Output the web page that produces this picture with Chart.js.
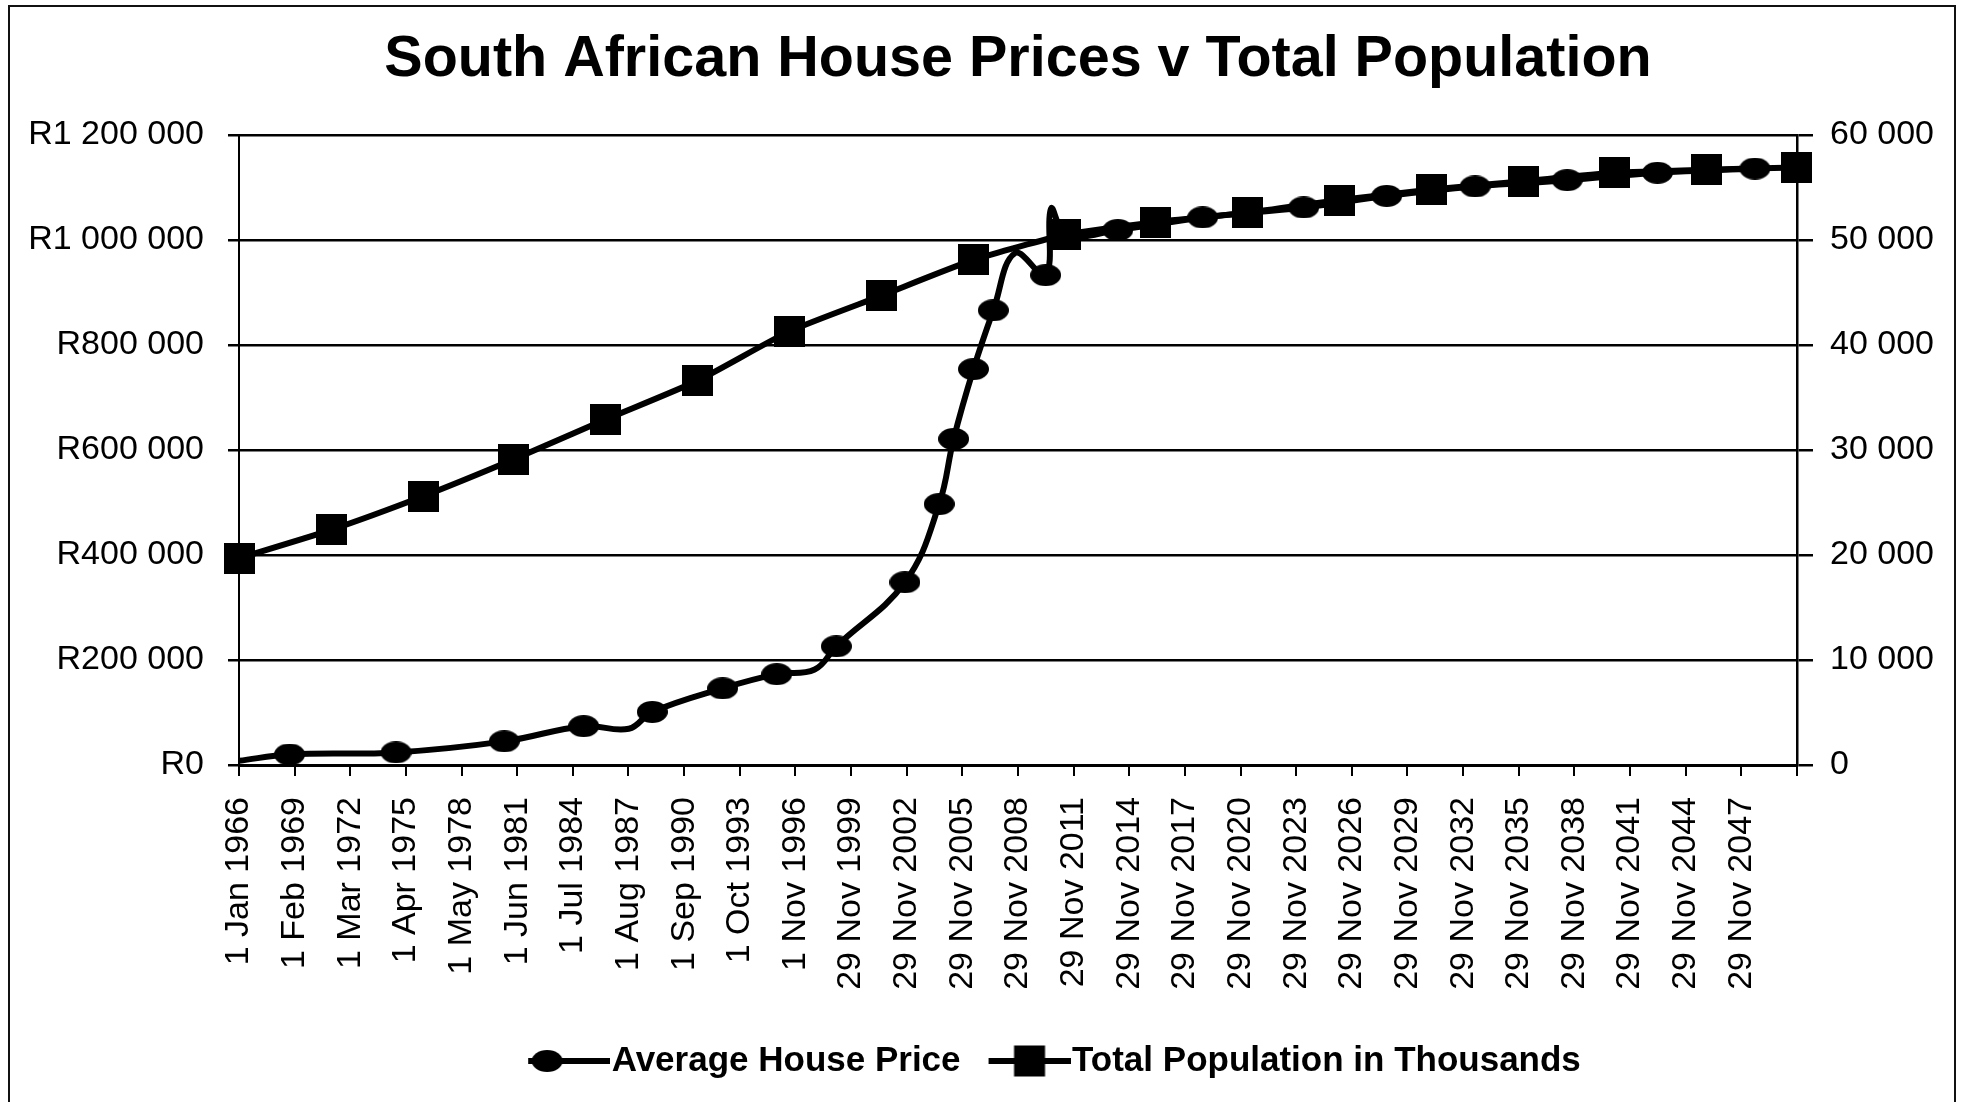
<!DOCTYPE html>
<html>
<head>
<meta charset="utf-8">
<title>South African House Prices v Total Population</title>
<script src="https://cdn.jsdelivr.net/npm/chart.js@4.4.0/dist/chart.umd.min.js"></script>
<style>
  html, body { margin: 0; padding: 0; background: #fff; overflow: hidden; }
  #chart { position: absolute; left: 0; top: 0; }
  #frame { position: absolute; left: 8px; top: 5px; width: 1944px; height: 1110px; border: 2px solid #111; pointer-events: none; }
</style>
</head>
<body>
<canvas id="chart" width="1962" height="1102"></canvas>
<div id="frame"></div>
<script>
// x axis labels (one every 37 months, last tick unlabelled)
const xTickLabels = ['1 Jan 1966', '1 Feb 1969', '1 Mar 1972', '1 Apr 1975', '1 May 1978', '1 Jun 1981',
  '1 Jul 1984', '1 Aug 1987', '1 Sep 1990', '1 Oct 1993', '1 Nov 1996', '29 Nov 1999', '29 Nov 2002',
  '29 Nov 2005', '29 Nov 2008', '29 Nov 2011', '29 Nov 2014', '29 Nov 2017', '29 Nov 2020', '29 Nov 2023',
  '29 Nov 2026', '29 Nov 2029', '29 Nov 2032', '29 Nov 2035', '29 Nov 2038', '29 Nov 2041', '29 Nov 2044',
  '29 Nov 2047', ''];
const priceTickLabels = ['R0', 'R200 000', 'R400 000', 'R600 000', 'R800 000', 'R1 000 000', 'R1 200 000'];
const popTickLabels = ['0', '10 000', '20 000', '30 000', '40 000', '50 000', '60 000'];

// Average house price (rand), x in decimal years
const priceYears = [1966.0, 1968.8, 1974.7, 1980.7, 1985.1, 1987.6, 1988.9, 1992.8, 1995.8, 1997.9,
  1999.1, 2002.9, 2004.8, 2005.6, 2006.7, 2007.8, 2009.0, 2010.7, 2011.0, 2011.85,
  2014.7, 2019.4, 2025.0, 2029.6, 2034.5, 2039.6, 2044.6, 2050.0];
const priceValues = [8000, 20000, 24000, 45000, 74000, 69000, 101000, 146000, 173000, 182000,
  226000, 348000, 497000, 621000, 754000, 866000, 975000, 933000, 1060000, 1010000,
  1019000, 1043000, 1062000, 1084000, 1102000, 1114000, 1128000, 1136000];
// points that carry a marker in the original (others only shape the line)
const priceMarked = [0, 1, 1, 1, 1, 0, 1, 1, 1, 0,
  1, 1, 1, 1, 1, 1, 0, 1, 0, 0,
  1, 1, 1, 1, 1, 1, 1, 1];

// Total population in thousands
const popYears = [1966.0, 1971.1, 1976.2, 1981.2, 1986.3, 1991.4, 1996.5, 2001.6, 2006.7, 2011.8,
  2016.8, 2021.9, 2027.0, 2032.1, 2037.2, 2042.2, 2047.3, 2052.3];
const popValues = [19700, 22400, 25600, 29100, 32900, 36600, 41300, 44700, 48100, 50500,
  51700, 52600, 53800, 54800, 55600, 56400, 56700, 56900];

const xStart = 1966;
const xStep = 37 / 12;

function makeMarker(draw, w, h) {
  const c = document.createElement('canvas');
  c.width = w; c.height = h;
  const g = c.getContext('2d');
  g.fillStyle = '#000'; g.strokeStyle = '#000';
  draw(g);
  return c;
}
const circleMark = makeMarker(g => { g.beginPath(); g.ellipse(15.5, 11, 15.5, 11, 0, 0, Math.PI * 2); g.fill(); }, 31, 22);
const squareMark = makeMarker(g => g.fillRect(0, 0, 31, 31), 31, 31);
const priceIcon = makeMarker(g => {
  g.lineWidth = 6; g.beginPath(); g.moveTo(34, 17); g.lineTo(116, 17); g.stroke();
  g.beginPath(); g.ellipse(53, 17, 15.5, 11, 0, 0, Math.PI * 2); g.fill();
}, 116, 34);
const popIcon = makeMarker(g => {
  g.lineWidth = 6; g.beginPath(); g.moveTo(34, 17); g.lineTo(116, 17); g.stroke();
  g.fillRect(75 - 15.5, 17 - 15.5, 31, 31);
}, 116, 34);

Chart.defaults.font.family = "'Liberation Sans', Arial, sans-serif";
Chart.defaults.color = '#000';

const $grafica = document.querySelector('#chart');
new Chart($grafica, {
  type: 'line',
  data: {
    datasets: [{
      label: 'Average House Price',
      data: priceYears.map((x, i) => ({ x, y: priceValues[i] })),
      yAxisID: 'y',
      order: 1,
      borderColor: '#000',
      borderWidth: 6,
      tension: 0.4,
      pointStyle: circleMark,
      pointRadius: ctx => priceMarked[ctx.dataIndex] ? 15 : 0,
      clip: false
    }, {
      label: 'Total Population in Thousands',
      data: popYears.map((x, i) => ({ x, y: popValues[i] })),
      yAxisID: 'y1',
      order: 0,
      borderColor: '#000',
      borderWidth: 6,
      tension: 0.2,
      pointStyle: squareMark,
      pointRadius: 16,
      clip: false
    }]
  },
  options: {
    responsive: false,
    animation: false,
    devicePixelRatio: 1,
    // the legend sits right of centre in the original, hence the negative right padding
    layout: { padding: { left: 0, right: -129, top: 0, bottom: 13.5 } },
    plugins: {
      tooltip: { enabled: false },
      title: {
        display: true,
        text: 'South African House Prices v Total Population',
        fullSize: false,
        color: '#000',
        font: { size: 57.5, weight: 'bold' },
        padding: { top: 26, bottom: 40 }
      },
      legend: {
        position: 'bottom',
        labels: {
          usePointStyle: true,
          pointStyleWidth: 84,
          padding: 10,
          color: '#000',
          font: { size: 35, weight: 'bold' },
          generateLabels: () => [
            { text: 'Average House Price', pointStyle: priceIcon, fillStyle: '#000', strokeStyle: '#000', lineWidth: 0, hidden: false, datasetIndex: 0 },
            { text: 'Total Population in Thousands', pointStyle: popIcon, fillStyle: '#000', strokeStyle: '#000', lineWidth: 0, hidden: false, datasetIndex: 1 }
          ]
        }
      }
    },
    scales: {
      x: {
        type: 'linear',
        min: xStart,
        max: xStart + (xTickLabels.length - 1) * xStep,
        afterBuildTicks: scale => {
          scale.ticks = xTickLabels.map((_, i) => ({ value: xStart + i * xStep }));
        },
        afterFit: scale => { scale.height = 268.5; },
        ticks: {
          autoSkip: false,
          minRotation: 90,
          maxRotation: 90,
          padding: 21,
          font: { size: 34 },
          color: '#000',
          callback: (v, i) => xTickLabels[i]
        },
        grid: { drawOnChartArea: false, drawTicks: true, tickLength: 11, color: '#000', lineWidth: 2 },
        border: { display: true, color: '#000', width: 3 }
      },
      y: {
        position: 'left',
        min: 0,
        max: 1200000,
        afterFit: scale => { scale.width = 239; },
        ticks: {
          stepSize: 200000,
          padding: 24,
          font: { size: 34 },
          color: '#000',
          callback: (v, i) => priceTickLabels[i]
        },
        grid: { color: '#000', lineWidth: 2.5, drawTicks: true, tickLength: 11 },
        border: { display: true, color: '#000', width: 2 }
      },
      y1: {
        position: 'right',
        min: 0,
        max: 60000,
        afterFit: scale => { scale.width = 294; },
        ticks: {
          stepSize: 10000,
          padding: 17,
          font: { size: 34 },
          color: '#000',
          callback: (v, i) => popTickLabels[i]
        },
        grid: { drawOnChartArea: false, color: '#000', lineWidth: 2.5, drawTicks: true, tickLength: 16 },
        border: { display: true, color: '#000', width: 2.5 }
      }
    }
  }
});
</script>
</body>
</html>
